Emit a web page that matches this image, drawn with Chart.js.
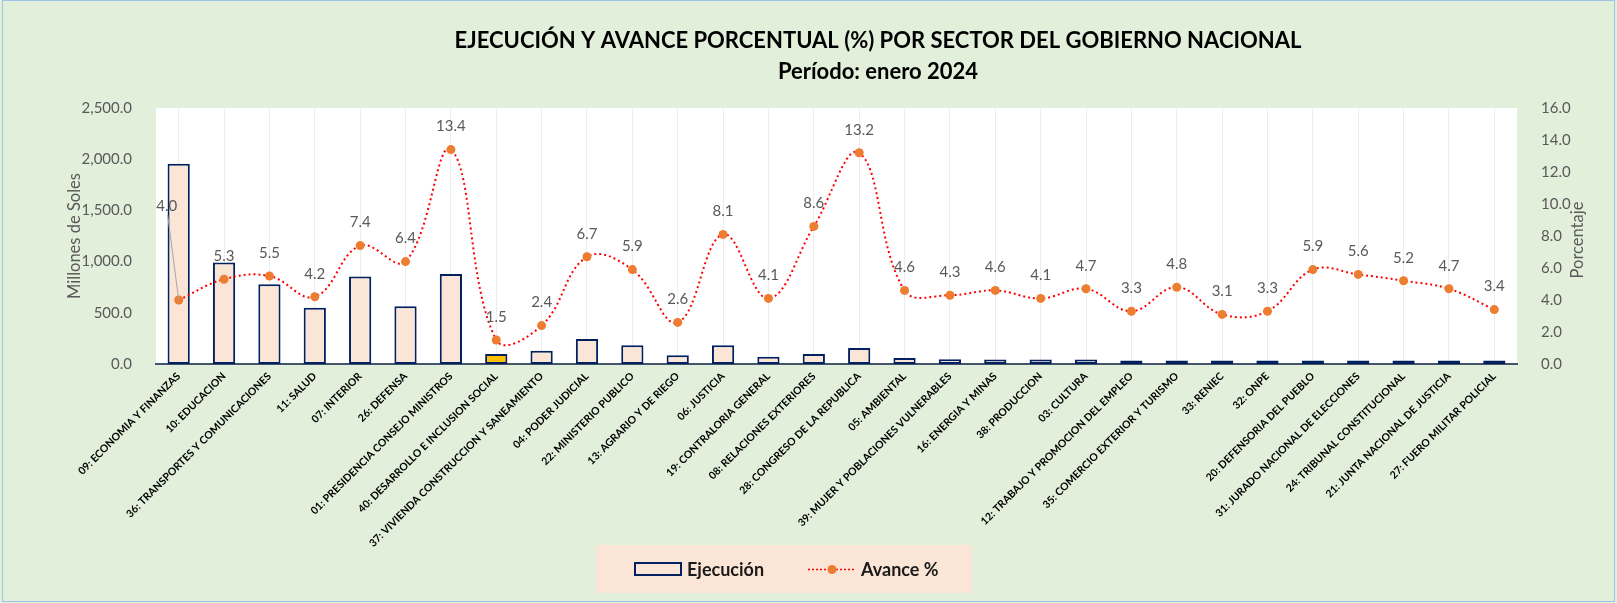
<!DOCTYPE html>
<html lang="es">
<head>
<meta charset="utf-8">
<title>Ejecución y avance porcentual por sector</title>
<script src="https://cdn.jsdelivr.net/npm/chart.js@4.4.1/dist/chart.umd.min.js"></script>
<style>
    html, body { margin: 0; padding: 0; background: #E2EFDA; }
    canvas { display: block; }
</style>
</head>
<body>
<canvas id="chart" width="1617" height="603"></canvas>
<script>
const sectores = [
    '09: ECONOMIA Y FINANZAS',
    '10: EDUCACION',
    '36: TRANSPORTES Y COMUNICACIONES',
    '11: SALUD',
    '07: INTERIOR',
    '26: DEFENSA',
    '01: PRESIDENCIA CONSEJO MINISTROS',
    '40: DESARROLLO E INCLUSION SOCIAL',
    '37: VIVIENDA CONSTRUCCION Y SANEAMIENTO',
    '04: PODER JUDICIAL',
    '22: MINISTERIO PUBLICO',
    '13: AGRARIO Y DE RIEGO',
    '06: JUSTICIA',
    '19: CONTRALORIA GENERAL',
    '08: RELACIONES EXTERIORES',
    '28: CONGRESO DE LA REPUBLICA',
    '05: AMBIENTAL',
    '39: MUJER Y POBLACIONES VULNERABLES',
    '16: ENERGIA Y MINAS',
    '38: PRODUCCION',
    '03: CULTURA',
    '12: TRABAJO Y PROMOCION DEL EMPLEO',
    '35: COMERCIO EXTERIOR Y TURISMO',
    '33: RENIEC',
    '32: ONPE',
    '20: DEFENSORIA DEL PUEBLO',
    '31: JURADO NACIONAL DE ELECCIONES',
    '24: TRIBUNAL CONSTITUCIONAL',
    '21: JUNTA NACIONAL DE JUSTICIA',
    '27: FUERO MILITAR POLICIAL',
]

// millones de soles
const ejecucion = [
    1955, 990, 780, 550, 855, 565, 880, 98, 130, 245,
    182, 85, 182, 72, 98, 156, 59, 46, 44, 44,
    44, 30, 30, 18, 16, 18, 16, 16, 16, 16,
]

// avance %
const avance = [
    4.0, 5.3, 5.5, 4.2, 7.4, 6.4, 13.4, 1.5, 2.4, 6.7,
    5.9, 2.6, 8.1, 4.1, 8.6, 13.2, 4.6, 4.3, 4.6, 4.1,
    4.7, 3.3, 4.8, 3.1, 3.3, 5.9, 5.6, 5.2, 4.7, 3.4,
]

const ticksSoles = [0, 500, 1000, 1500, 2000, 2500]
const ticksPorcentaje = [0, 2, 4, 6, 8, 10, 12, 14, 16]

const titulo = 'EJECUCIÓN Y AVANCE PORCENTUAL (%) POR SECTOR DEL GOBIERNO NACIONAL'
const subtitulo = 'Período: enero 2024'

const sectorResaltado = '40: DESARROLLO E INCLUSION SOCIAL'

const FONT = 'Lato, "Open Sans", sans-serif'
const PEACH = '#FBE5D6'
const NAVY = '#002060'
const ORANGE = '#ED7D31'
const GREY = '#595959'

// fondo verde + area de trazado blanca
const fondo = {
    id: 'fondo',
    beforeDraw(chart) {
        const { ctx, chartArea: a } = chart
        ctx.save()
        ctx.fillStyle = '#E2EFDA'
        ctx.fillRect(0, 0, chart.width, chart.height)
        ctx.fillStyle = '#FFFFFF'
        ctx.fillRect(a.left, a.top, a.right - a.left, a.bottom - a.top)
        ctx.restore()
    },
}

// etiquetas de datos de la linea
const etiquetas = {
    id: 'etiquetas',
    afterDatasetsDraw(chart) {
        const { ctx } = chart
        const meta = chart.getDatasetMeta(0)
        ctx.save()
        ctx.font = `15px ${FONT}`
        ctx.fillStyle = GREY
        ctx.textAlign = 'center'
        ctx.textBaseline = 'middle'
        meta.data.forEach((pt, i) => {
            const txt = avance[i].toFixed(1)
            if (i === 0) {
                // la primera etiqueta fue movida a mano en el original, con linea guia
                ctx.strokeStyle = '#A6A6A6'
                ctx.lineWidth = 1
                ctx.beginPath()
                ctx.moveTo(pt.x - 11, pt.y - 85)
                ctx.lineTo(pt.x, pt.y)
                ctx.stroke()
                ctx.fillText(txt, pt.x - 12, pt.y - 94)
            } else {
                ctx.fillText(txt, pt.x, pt.y - 23)
            }
        })
        ctx.restore()
    },
}

// titulo, titulo del eje derecho y leyenda
const extras = {
    id: 'extras',
    afterDraw(chart) {
        const { ctx } = chart
        ctx.save()

        ctx.fillStyle = '#000000'
        ctx.textAlign = 'center'
        ctx.textBaseline = 'middle'
        ctx.font = `bold 22px ${FONT}`
        ctx.fillText(titulo, 878, 41)
        ctx.fillText(subtitulo, 878, 72)

        // eje derecho: se lee de abajo hacia arriba
        ctx.save()
        ctx.translate(1578, 240)
        ctx.rotate(-Math.PI / 2)
        ctx.font = `16.5px ${FONT}`
        ctx.fillStyle = GREY
        ctx.fillText('Porcentaje', 0, 0)
        ctx.restore()

        // leyenda
        ctx.fillStyle = PEACH
        ctx.fillRect(596, 545, 376, 48)

        ctx.fillStyle = PEACH
        ctx.fillRect(635, 563, 46, 12)
        ctx.strokeStyle = NAVY
        ctx.lineWidth = 2
        ctx.strokeRect(635, 563, 46, 12)

        ctx.strokeStyle = '#FF0000'
        ctx.lineWidth = 1.5
        ctx.setLineDash([2, 2])
        ctx.beginPath()
        ctx.moveTo(808, 569.5)
        ctx.lineTo(855, 569.5)
        ctx.stroke()
        ctx.setLineDash([])
        ctx.fillStyle = ORANGE
        ctx.beginPath()
        ctx.arc(832, 569.5, 4.5, 0, Math.PI * 2)
        ctx.fill()

        ctx.fillStyle = '#1A1A1A'
        ctx.textAlign = 'left'
        ctx.font = `bold 18px ${FONT}`
        ctx.fillText('Ejecución', 687, 570)
        ctx.fillText('Avance %', 861, 570)

        // borde del grafico
        ctx.strokeStyle = '#9DC3E6'
        ctx.lineWidth = 1
        ctx.strokeRect(2.5, 0.5, chart.width - 5, chart.height - 2)
        ctx.restore()
    },
}

const ctx = document.getElementById('chart').getContext('2d')
new Chart(ctx, {
    data: {
        labels: sectores,
        datasets: [
            {
                type: 'line',
                label: 'Avance %',
                data: avance,
                yAxisID: 'yPct',
                order: 0,
                borderColor: '#FF0000',
                borderWidth: 2,
                borderDash: [2, 3],
                tension: 0.4,
                pointRadius: 4.5,
                pointBackgroundColor: ORANGE,
                pointBorderColor: ORANGE,
                pointBorderWidth: 0,
            },
            {
                type: 'bar',
                label: 'Ejecución',
                data: ejecucion,
                yAxisID: 'ySoles',
                order: 1,
                backgroundColor: sectores.map((s) =>
                    s === sectorResaltado ? '#FFC000' : PEACH
                ),
                borderColor: NAVY,
                borderWidth: 2,
                borderSkipped: false,
                minBarLength: 3.5,
                categoryPercentage: 1,
                barPercentage: 0.49,
            },
        ],
    },
    options: {
        responsive: false,
        animation: false,
        layout: { padding: { top: 108, left: 0, right: 0, bottom: 0 } },
        plugins: {
            legend: { display: false },
            title: { display: false },
            tooltip: { enabled: false },
        },
        scales: {
            x: {
                grid: {
                    display: true,
                    offset: false,
                    color: '#EDEDED',
                    drawTicks: false,
                },
                border: { display: true, color: '#44546A', width: 2 },
                ticks: {
                    autoSkip: false,
                    maxRotation: 45,
                    minRotation: 45,
                    padding: 6,
                    color: '#000000',
                    font: { family: FONT, size: 10.5, weight: 'bold' },
                },
                afterFit(scale) {
                    scale.height = 239
                },
            },
            ySoles: {
                position: 'left',
                min: 0,
                max: 2500,
                grid: { display: false },
                border: { display: false },
                afterBuildTicks(scale) {
                    scale.ticks = ticksSoles.map((v) => ({ value: v }))
                },
                ticks: {
                    padding: 16,
                    color: GREY,
                    font: { family: FONT, size: 15 },
                    callback: (v) =>
                        v.toLocaleString('en-US', {
                            minimumFractionDigits: 1,
                            maximumFractionDigits: 1,
                        }),
                },
                title: {
                    display: true,
                    text: 'Millones de Soles',
                    color: GREY,
                    font: { family: FONT, size: 16.5 },
                    padding: { top: 65, bottom: 0 },
                },
                afterFit(scale) {
                    scale.width = 156
                },
            },
            yPct: {
                position: 'right',
                min: 0,
                max: 16,
                grid: { display: false },
                border: { display: false },
                afterBuildTicks(scale) {
                    scale.ticks = ticksPorcentaje.map((v) => ({ value: v }))
                },
                ticks: {
                    padding: 16,
                    color: GREY,
                    font: { family: FONT, size: 15 },
                    callback: (v) => v.toFixed(1),
                },
                afterFit(scale) {
                    scale.width = 100
                },
            },
        },
    },
    plugins: [fondo, etiquetas, extras],
})
</script>
</body>
</html>
